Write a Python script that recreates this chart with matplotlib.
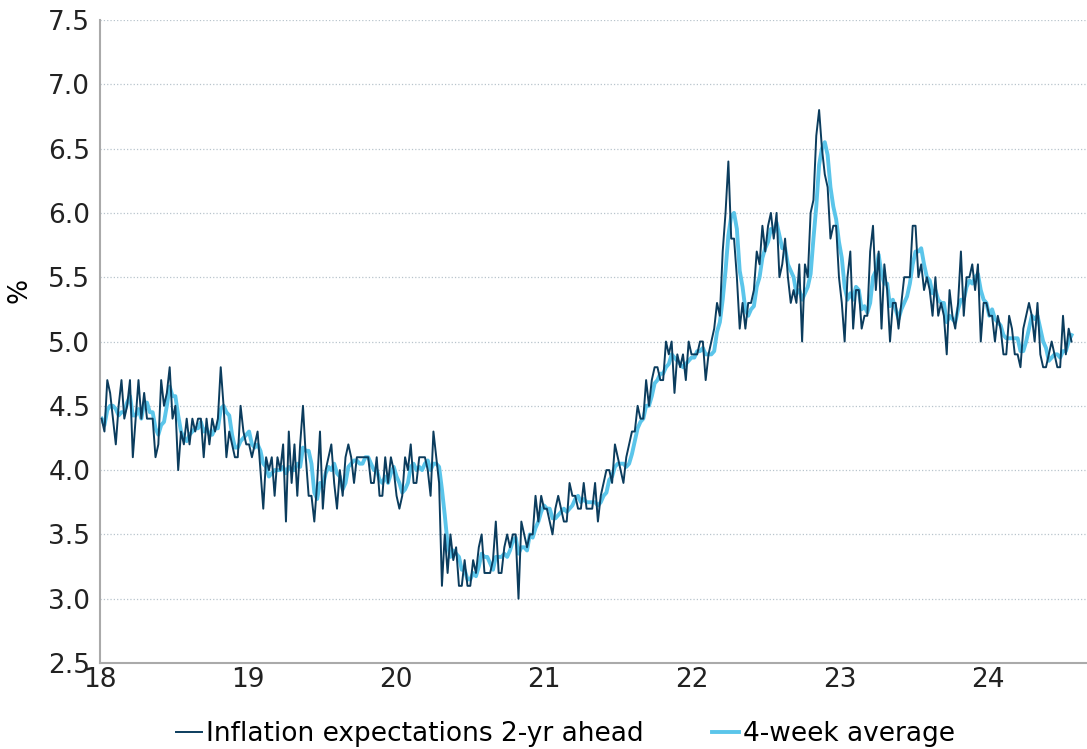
import matplotlib.pyplot as plt
import pandas as pd
import numpy as np

# weekly readings, survey of 2-yr ahead inflation expectations (%)
# start: first week of 2018
y2018 = [4.4, 4.3, 4.7, 4.6, 4.4, 4.2, 4.5, 4.7, 4.4, 4.5, 4.7, 4.1, 4.4, 4.7, 4.4, 4.6,
         4.4, 4.4, 4.4, 4.1, 4.2, 4.7, 4.5, 4.6, 4.8, 4.4, 4.5, 4.0, 4.3, 4.2, 4.4, 4.2,
         4.4, 4.3, 4.4, 4.4, 4.1, 4.4, 4.2, 4.4, 4.3, 4.4, 4.8, 4.5, 4.1, 4.3, 4.2, 4.1,
         4.1, 4.5, 4.3, 4.2]
y2019 = [4.2, 4.1, 4.2, 4.3, 4.0, 3.7, 4.1, 4.0, 4.1, 3.8, 4.1, 4.0, 4.2, 3.6, 4.3, 3.9,
         4.2, 3.8, 4.2, 4.5, 4.1, 3.8, 3.8, 3.6, 3.9, 4.3, 3.7, 4.0, 4.1, 4.2, 3.9, 3.7,
         4.0, 3.8, 4.1, 4.2, 4.1, 3.9, 4.1, 4.1, 4.1, 4.1, 4.1, 3.9, 3.9, 4.1, 3.8, 3.8,
         4.1, 3.9, 4.1, 4.0]
y2020 = [3.8, 3.7, 3.8, 4.1, 4.0, 4.2, 3.9, 3.9, 4.1, 4.1, 4.1, 4.0, 3.8, 4.3, 4.1, 3.9,
         3.1, 3.5, 3.2, 3.5, 3.3, 3.4, 3.1, 3.1, 3.3, 3.1, 3.1, 3.3, 3.2, 3.4, 3.5, 3.2,
         3.2, 3.2, 3.3, 3.6, 3.2, 3.2, 3.4, 3.5, 3.4, 3.5, 3.5, 3.0, 3.6, 3.5, 3.4, 3.5,
         3.5, 3.8, 3.6, 3.8]
y2021 = [3.7, 3.7, 3.6, 3.5, 3.7, 3.8, 3.7, 3.6, 3.6, 3.9, 3.8, 3.8, 3.7, 3.7, 3.9, 3.7,
         3.7, 3.7, 3.9, 3.6, 3.8, 3.9, 4.0, 4.0, 3.9, 4.2, 4.1, 4.0, 3.9, 4.1, 4.2, 4.3,
         4.3, 4.5, 4.4, 4.4, 4.7, 4.5, 4.7, 4.8, 4.8, 4.7, 4.7, 5.0, 4.9, 5.0, 4.6, 4.9,
         4.8, 4.9, 4.7, 5.0]
y2022 = [4.9, 4.9, 4.9, 5.0, 5.0, 4.7, 4.9, 5.0, 5.1, 5.3, 5.2, 5.7, 6.0, 6.4, 5.8, 5.8,
         5.5, 5.1, 5.3, 5.1, 5.3, 5.3, 5.4, 5.7, 5.6, 5.9, 5.7, 5.9, 6.0, 5.8, 6.0, 5.5,
         5.6, 5.8, 5.5, 5.3, 5.4, 5.3, 5.6, 5.0, 5.6, 5.5, 6.0, 6.1, 6.6, 6.8, 6.5, 6.3,
         6.2, 5.8, 5.9, 5.9]
y2023 = [5.5, 5.3, 5.0, 5.5, 5.7, 5.1, 5.4, 5.4, 5.1, 5.2, 5.2, 5.7, 5.9, 5.4, 5.7, 5.1,
         5.6, 5.4, 5.0, 5.3, 5.3, 5.1, 5.3, 5.5, 5.5, 5.5, 5.9, 5.9, 5.5, 5.6, 5.4, 5.5,
         5.4, 5.2, 5.5, 5.2, 5.3, 5.2, 4.9, 5.4, 5.2, 5.1, 5.3, 5.7, 5.2, 5.5, 5.5, 5.6,
         5.4, 5.6, 5.0, 5.3]
y2024 = [5.3, 5.2, 5.2, 5.0, 5.2, 5.1, 4.9, 4.9, 5.2, 5.1, 4.9, 4.9, 4.8, 5.1, 5.2, 5.3,
         5.2, 5.0, 5.3, 4.9, 4.8, 4.8, 4.9, 5.0, 4.9, 4.8, 4.8, 5.2, 4.9, 5.1, 5.0]

expect = np.array(y2018 + y2019 + y2020 + y2021 + y2022 + y2023 + y2024)
dates = pd.date_range("2018-01-05", periods=len(expect), freq="7D")
s = pd.Series(expect, index=dates)
avg4 = s.rolling(4, min_periods=1).mean()

# x in "years since 2000" so ticks read 18, 19, ...
x = 18 + (dates - pd.Timestamp("2018-01-01")).days / 365.25

years = [18, 19, 20, 21, 22, 23, 24]
yticks = [2.5, 3.0, 3.5, 4.0, 4.5, 5.0, 5.5, 6.0, 6.5, 7.0, 7.5]

plt.rcParams['font.family'] = ['DejaVu Sans']
fs = 19

fig = plt.figure(figsize=(10.87, 7.49), dpi=100)
ax = fig.add_axes([100/1087, 86/749, 987/1087, 643/749])

ax.plot(x, s.values, color='#0b3c5d', lw=1.4, label='Inflation expectations 2-yr ahead', zorder=3)
ax.plot(x, avg4.values, color='#5bc5ea', lw=2.8, label='4-week average', zorder=2)

ax.set_xlim(18, 24.67)
ax.set_ylim(2.5, 7.5)
ax.set_xticks(years)
ax.set_xticklabels([str(v) for v in years])
ax.set_yticks(yticks)
ax.set_yticklabels([f"{v:.1f}" for v in yticks])
ax.tick_params(axis='both', labelsize=fs, colors='#222222')
ax.tick_params(axis='y', length=0, pad=7)
ax.tick_params(axis='x', length=0, pad=3)
ax.grid(axis='y', color='#b8c4cc', linestyle=':', lw=0.9)
ax.set_axisbelow(True)

for side in ['top', 'right']:
    ax.spines[side].set_visible(False)
for side in ['left', 'bottom']:
    ax.spines[side].set_color('#aaaaaa')
    ax.spines[side].set_linewidth(1.5)

ax.set_ylabel('%', fontsize=fs)
ax.yaxis.set_label_coords(-0.068, 0.58)

fig.legend(loc='lower center', bbox_to_anchor=(0.52, -0.029), ncol=2, frameon=False,
           fontsize=fs, handlelength=1.0, handletextpad=0.15, columnspacing=2.6)

fig.savefig('out.png', dpi=100)
